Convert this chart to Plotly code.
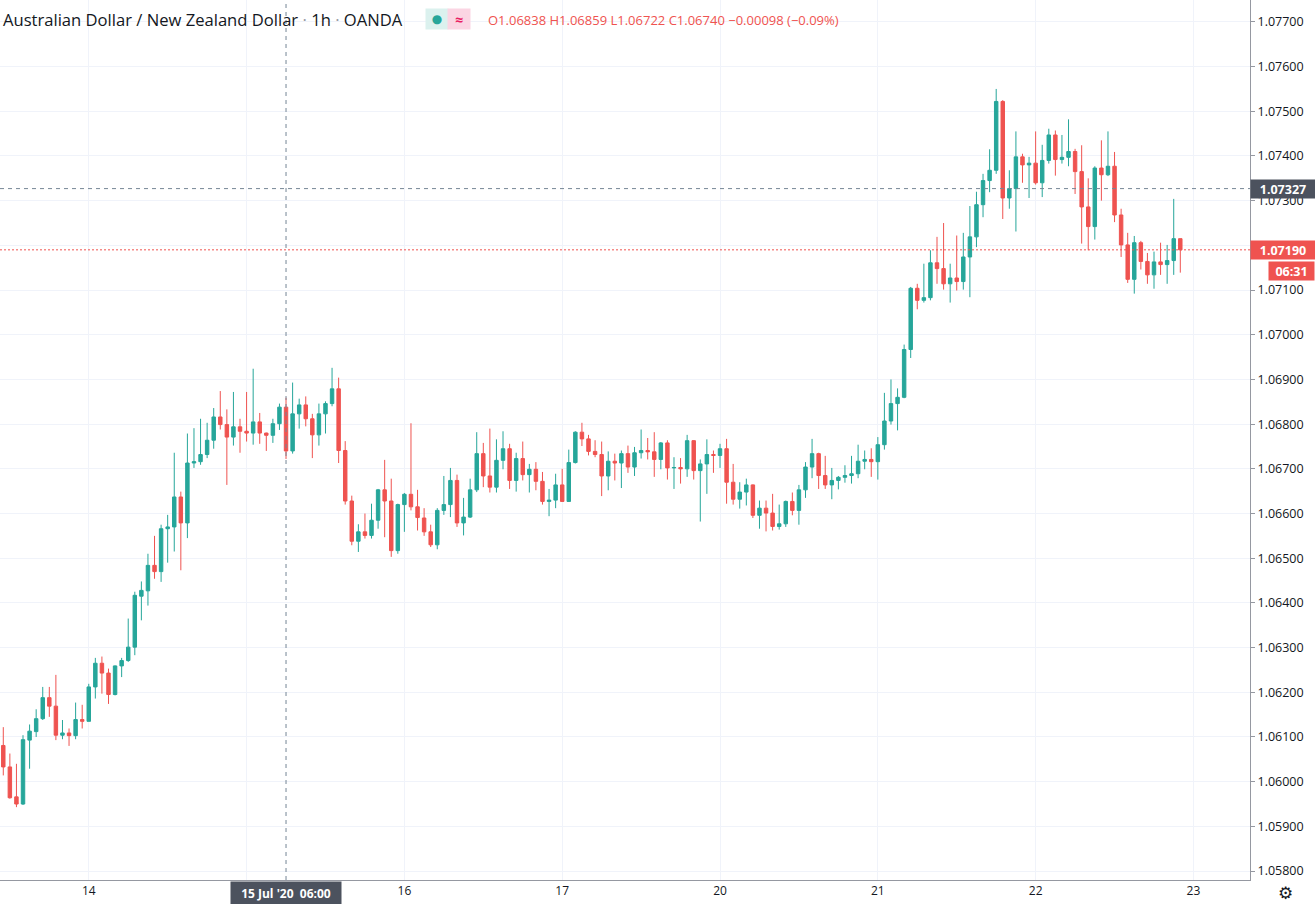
import plotly.graph_objects as go

# AUD/NZD 1h candles, 13 Jul 11:00 -> 22 Jul 22:00 (OANDA)
open_ = [
    1.06081, 1.06033, 1.05966, 1.05950, 1.06093, 1.06112, 1.06141, 1.06188, 1.06169, 1.06104,
    1.06109, 1.06103, 1.06139, 1.06135, 1.06212, 1.06265, 1.06243, 1.06195, 1.06259, 1.06271,
    1.06301, 1.06415, 1.06427, 1.06484, 1.06470, 1.06566, 1.06570, 1.06637, 1.06579, 1.06713,
    1.06716, 1.06732, 1.06764, 1.06816, 1.06799, 1.06771, 1.06794, 1.06784, 1.06780, 1.06805,
    1.06780, 1.06775, 1.06801, 1.06838, 1.06740, 1.06823, 1.06843, 1.06812, 1.06776, 1.06823,
    1.06846, 1.06879, 1.06741, 1.06628, 1.06538, 1.06559, 1.06551, 1.06585, 1.06653, 1.06628,
    1.06517, 1.06620, 1.06643, 1.06615, 1.06590, 1.06559, 1.06530, 1.06607, 1.06620, 1.06674,
    1.06579, 1.06592, 1.06653, 1.06734, 1.06684, 1.06659, 1.06719, 1.06745, 1.06674, 1.06723,
    1.06687, 1.06699, 1.06672, 1.06627, 1.06630, 1.06664, 1.06627, 1.06714, 1.06782, 1.06767,
    1.06739, 1.06732, 1.06684, 1.06717, 1.06713, 1.06734, 1.06704, 1.06736, 1.06741, 1.06738,
    1.06721, 1.06758, 1.06702, 1.06703, 1.06700, 1.06763, 1.06696, 1.06711, 1.06732, 1.06730,
    1.06745, 1.06670, 1.06632, 1.06648, 1.06664, 1.06596, 1.06612, 1.06601, 1.06571, 1.06577,
    1.06627, 1.06607, 1.06653, 1.06704, 1.06734, 1.06685, 1.06664, 1.06674, 1.06681, 1.06685,
    1.06689, 1.06717, 1.06721, 1.06716, 1.06754, 1.06807, 1.06846, 1.06860, 1.06967, 1.07104,
    1.07077, 1.07083, 1.07161, 1.07148, 1.07114, 1.07127, 1.07119, 1.07174, 1.07219, 1.07291,
    1.07345, 1.07368, 1.07522, 1.07306, 1.07327, 1.07398, 1.07380, 1.07384, 1.07340, 1.07390,
    1.07447, 1.07392, 1.07397, 1.07410, 1.07365, 1.07286, 1.07242, 1.07373, 1.07358, 1.07377,
    1.07268, 1.07201, 1.07124, 1.07206, 1.07164, 1.07134, 1.07163, 1.07157, 1.07166, 1.07215,
]
high = [
    1.06122, 1.06063, 1.06040, 1.06104, 1.06128, 1.06162, 1.06212, 1.06212, 1.06239, 1.06138,
    1.06119, 1.06177, 1.06172, 1.06219, 1.06277, 1.06280, 1.06253, 1.06260, 1.06277, 1.06365,
    1.06425, 1.06448, 1.06510, 1.06550, 1.06575, 1.06597, 1.06736, 1.06649, 1.06779, 1.06791,
    1.06812, 1.06803, 1.06836, 1.06874, 1.06833, 1.06872, 1.06812, 1.06872, 1.06924, 1.06825,
    1.06781, 1.06812, 1.06846, 1.06859, 1.06893, 1.06857, 1.06862, 1.06823, 1.06846, 1.06851,
    1.06926, 1.06904, 1.06762, 1.06640, 1.06576, 1.06600, 1.06622, 1.06655, 1.06720, 1.06678,
    1.06622, 1.06646, 1.06802, 1.06653, 1.06612, 1.06575, 1.06612, 1.06684, 1.06702, 1.06687,
    1.06635, 1.06678, 1.06782, 1.06758, 1.06790, 1.06766, 1.06784, 1.06756, 1.06736, 1.06761,
    1.06711, 1.06715, 1.06693, 1.06655, 1.06689, 1.06700, 1.06743, 1.06784, 1.06803, 1.06776,
    1.06764, 1.06761, 1.06739, 1.06734, 1.06741, 1.06752, 1.06749, 1.06788, 1.06769, 1.06782,
    1.06760, 1.06764, 1.06726, 1.06724, 1.06776, 1.06764, 1.06721, 1.06766, 1.06741, 1.06756,
    1.06767, 1.06711, 1.06670, 1.06678, 1.06665, 1.06629, 1.06629, 1.06644, 1.06620, 1.06629,
    1.06647, 1.06664, 1.06715, 1.06767, 1.06736, 1.06729, 1.06702, 1.06684, 1.06708, 1.06729,
    1.06754, 1.06741, 1.06746, 1.06771, 1.06870, 1.06900, 1.06880, 1.06978, 1.07107, 1.07114,
    1.07159, 1.07189, 1.07219, 1.07250, 1.07159, 1.07222, 1.07228, 1.07288, 1.07320, 1.07360,
    1.07415, 1.07550, 1.07525, 1.07368, 1.07455, 1.07405, 1.07398, 1.07455, 1.07425, 1.07461,
    1.07457, 1.07447, 1.07482, 1.07416, 1.07424, 1.07350, 1.07377, 1.07435, 1.07455, 1.07409,
    1.07282, 1.07228, 1.07221, 1.07210, 1.07183, 1.07186, 1.07206, 1.07201, 1.07304, 1.07215,
]
low = [
    1.06014, 1.05962, 1.05943, 1.05948, 1.06029, 1.06100, 1.06138, 1.06145, 1.06093, 1.06095,
    1.06080, 1.06095, 1.06119, 1.06135, 1.06186, 1.06197, 1.06174, 1.06193, 1.06234, 1.06268,
    1.06283, 1.06361, 1.06394, 1.06454, 1.06447, 1.06490, 1.06515, 1.06473, 1.06545, 1.06702,
    1.06709, 1.06724, 1.06745, 1.06788, 1.06664, 1.06752, 1.06736, 1.06761, 1.06754, 1.06756,
    1.06740, 1.06758, 1.06787, 1.06722, 1.06734, 1.06790, 1.06795, 1.06724, 1.06752, 1.06779,
    1.06840, 1.06713, 1.06620, 1.06529, 1.06514, 1.06544, 1.06544, 1.06566, 1.06547, 1.06503,
    1.06510, 1.06559, 1.06607, 1.06562, 1.06550, 1.06525, 1.06520, 1.06597, 1.06592, 1.06570,
    1.06551, 1.06590, 1.06648, 1.06659, 1.06647, 1.06647, 1.06699, 1.06655, 1.06649, 1.06674,
    1.06647, 1.06652, 1.06620, 1.06594, 1.06612, 1.06626, 1.06626, 1.06712, 1.06751, 1.06730,
    1.06726, 1.06639, 1.06652, 1.06674, 1.06657, 1.06691, 1.06684, 1.06723, 1.06721, 1.06682,
    1.06699, 1.06676, 1.06655, 1.06667, 1.06682, 1.06676, 1.06582, 1.06644, 1.06691, 1.06702,
    1.06622, 1.06620, 1.06611, 1.06618, 1.06590, 1.06566, 1.06560, 1.06562, 1.06564, 1.06570,
    1.06596, 1.06575, 1.06635, 1.06679, 1.06655, 1.06655, 1.06632, 1.06654, 1.06669, 1.06667,
    1.06679, 1.06699, 1.06682, 1.06676, 1.06743, 1.06799, 1.06786, 1.06858, 1.06948, 1.07057,
    1.07072, 1.07077, 1.07114, 1.07101, 1.07072, 1.07099, 1.07101, 1.07084, 1.07196, 1.07263,
    1.07319, 1.07360, 1.07259, 1.07282, 1.07231, 1.07340, 1.07306, 1.07336, 1.07308, 1.07383,
    1.07356, 1.07383, 1.07377, 1.07315, 1.07204, 1.07189, 1.07213, 1.07300, 1.07355, 1.07252,
    1.07174, 1.07116, 1.07092, 1.07146, 1.07114, 1.07103, 1.07134, 1.07114, 1.07134, 1.07139,
]
close = [
    1.06033, 1.05964, 1.05950, 1.06094, 1.06113, 1.06141, 1.06188, 1.06169, 1.06104, 1.06109,
    1.06103, 1.06139, 1.06135, 1.06212, 1.06265, 1.06243, 1.06195, 1.06259, 1.06271, 1.06301,
    1.06417, 1.06428, 1.06484, 1.06470, 1.06566, 1.06570, 1.06637, 1.06579, 1.06713, 1.06716,
    1.06732, 1.06764, 1.06816, 1.06799, 1.06771, 1.06794, 1.06784, 1.06780, 1.06805, 1.06780,
    1.06775, 1.06801, 1.06838, 1.06740, 1.06823, 1.06843, 1.06812, 1.06776, 1.06823, 1.06846,
    1.06879, 1.06741, 1.06628, 1.06538, 1.06559, 1.06551, 1.06585, 1.06653, 1.06628, 1.06517,
    1.06620, 1.06643, 1.06615, 1.06591, 1.06559, 1.06530, 1.06607, 1.06620, 1.06674, 1.06579,
    1.06592, 1.06653, 1.06734, 1.06684, 1.06659, 1.06719, 1.06745, 1.06674, 1.06723, 1.06687,
    1.06699, 1.06672, 1.06627, 1.06630, 1.06664, 1.06627, 1.06714, 1.06782, 1.06767, 1.06739,
    1.06732, 1.06684, 1.06717, 1.06713, 1.06734, 1.06704, 1.06736, 1.06741, 1.06738, 1.06721,
    1.06758, 1.06702, 1.06703, 1.06700, 1.06763, 1.06696, 1.06711, 1.06732, 1.06730, 1.06745,
    1.06670, 1.06632, 1.06648, 1.06664, 1.06596, 1.06612, 1.06601, 1.06571, 1.06577, 1.06627,
    1.06607, 1.06653, 1.06704, 1.06734, 1.06685, 1.06664, 1.06674, 1.06681, 1.06685, 1.06689,
    1.06717, 1.06721, 1.06716, 1.06754, 1.06807, 1.06846, 1.06860, 1.06967, 1.07104, 1.07077,
    1.07083, 1.07161, 1.07148, 1.07114, 1.07127, 1.07119, 1.07174, 1.07219, 1.07291, 1.07345,
    1.07368, 1.07522, 1.07306, 1.07327, 1.07398, 1.07380, 1.07384, 1.07340, 1.07390, 1.07447,
    1.07392, 1.07397, 1.07410, 1.07365, 1.07286, 1.07242, 1.07373, 1.07358, 1.07377, 1.07268,
    1.07201, 1.07124, 1.07206, 1.07164, 1.07134, 1.07163, 1.07157, 1.07166, 1.07215, 1.07190,
]

bar = list(range(len(close)))  # one slot per hourly bar, weekend gap removed

# day labels on the time axis (bar index of each midnight)
day_bars = [13, 37, 61, 85, 109, 133, 157, 181]
day_labels = ["14", "15", "16", "17", "20", "21", "22", "23"]

cross_bar = 43          # crosshair on 15 Jul 06:00
cross_time = "15 Jul '20  06:00"
cross_price = 1.07327
last_price = close[-1]
countdown = "06:31"

GREEN = "#26a69a"
RED = "#ef5350"
TXT = "#131722"
FONT = "Open Sans"

fig = go.Figure(go.Candlestick(
    x=bar, open=open_, high=high, low=low, close=close,
    increasing=dict(line=dict(color=GREEN, width=1), fillcolor=GREEN),
    decreasing=dict(line=dict(color=RED, width=1), fillcolor=RED),
    whiskerwidth=0, hoverinfo="skip",
))

fig.update_layout(
    width=1315, height=904,
    margin=dict(l=0, r=65, t=0, b=24),
    paper_bgcolor="white", plot_bgcolor="white",
    showlegend=False, boxgap=0.25,
    font=dict(family=FONT, size=12, color=TXT),
    xaxis=dict(
        range=[-0.5, 189.6], rangeslider=dict(visible=False),
        tickmode="array", tickvals=day_bars, ticktext=day_labels,
        showgrid=True, gridcolor="#f0f3fa", zeroline=False,
        showline=True, linecolor="#9598a1", linewidth=1,
        ticks="", tickfont=dict(size=12, color=TXT),
    ),
    yaxis=dict(
        side="right", range=[1.05780, 1.07749],
        dtick=0.001, tick0=1.058, tickformat=".5f",
        showgrid=True, gridcolor="#f0f3fa", zeroline=False,
        showline=True, linecolor="#9598a1", linewidth=1,
        ticks="outside", ticklen=4, tickcolor="#9598a1",
        tickfont=dict(size=12.5, color=TXT),
    ),
)

# crosshair and last price line
fig.add_shape(type="line", xref="x", yref="paper", x0=cross_bar, x1=cross_bar, y0=0, y1=1,
              line=dict(color="#758696", width=1, dash="4px,4px"))
fig.add_shape(type="line", xref="paper", yref="y", x0=0, x1=1, y0=cross_price, y1=cross_price,
              line=dict(color="#758696", width=1, dash="4px,4px"))
fig.add_shape(type="line", xref="paper", yref="y", x0=0, x1=1, y0=last_price, y1=last_price,
              line=dict(color=RED, width=1, dash="2px,2px"))

# price labels on the scale
fig.add_annotation(xref="paper", yref="y", x=1, y=cross_price, xanchor="left", xshift=0,
                   text=f"<b>{cross_price:.5f}</b>", showarrow=False, width=62, height=16,
                   bgcolor="#4c525e", font=dict(color="white", size=12.5))
fig.add_annotation(xref="paper", yref="y", x=1, y=last_price, xanchor="left", xshift=0,
                   text=f"<b>{last_price:.5f}</b>", showarrow=False, width=62, height=16,
                   bgcolor=RED, font=dict(color="white", size=12.5))
fig.add_annotation(xref="paper", yref="y", x=1, y=last_price, xanchor="left", xshift=18, yshift=-21,
                   text=f"<b>{countdown}</b>", showarrow=False, width=43, height=16,
                   bgcolor=RED, font=dict(color="white", size=12.5))

# time label under the crosshair
fig.add_annotation(xref="x", yref="paper", x=cross_bar, y=0, yanchor="top", yshift=-1,
                   text=f"<b>{cross_time}</b>", showarrow=False, height=20, width=108,
                   bgcolor="#4c525e", font=dict(color="white", size=12))

# settings gear
fig.add_annotation(xref="paper", yref="paper", x=1, y=0, xanchor="left", yanchor="top",
                   xshift=26, yshift=-1, text="⚙", showarrow=False,
                   font=dict(family="DejaVu Sans", size=17, color=TXT))

# header legend
fig.add_annotation(xref="paper", yref="paper", x=0, y=1, xanchor="left", yanchor="top",
                   xshift=1, yshift=-6, showarrow=False,
                   text="Australian Dollar / New Zealand Dollar <span style='color:#9598a1'>·</span> 1h "
                        "<span style='color:#9598a1'>·</span> OANDA",
                   font=dict(size=16.6, color=TXT))
fig.add_annotation(xref="paper", yref="paper", x=0, y=1, xanchor="left", yanchor="top",
                   xshift=425, yshift=-8, showarrow=False, text="●", width=20, height=18,
                   bgcolor="#dbf1ee", font=dict(family="DejaVu Sans", size=12, color=GREEN))
fig.add_annotation(xref="paper", yref="paper", x=0, y=1, xanchor="left", yanchor="top",
                   xshift=447, yshift=-8, showarrow=False, text="<b>≈</b>", width=20, height=18,
                   bgcolor="#fbd5e3", font=dict(size=14, color="#e91e63"))
fig.add_annotation(xref="paper", yref="paper", x=0, y=1, xanchor="left", yanchor="top",
                   xshift=486, yshift=-9, showarrow=False,
                   text=f"O{open_[cross_bar]:.5f} H{high[cross_bar]:.5f} L{low[cross_bar]:.5f} "
                        f"C{close[cross_bar]:.5f} −0.00098 (−0.09%)",
                   font=dict(size=13, color=RED))

fig.write_html("out.html", config={"displayModeBar": False},
               post_script="document.body.style.margin='0px';")
